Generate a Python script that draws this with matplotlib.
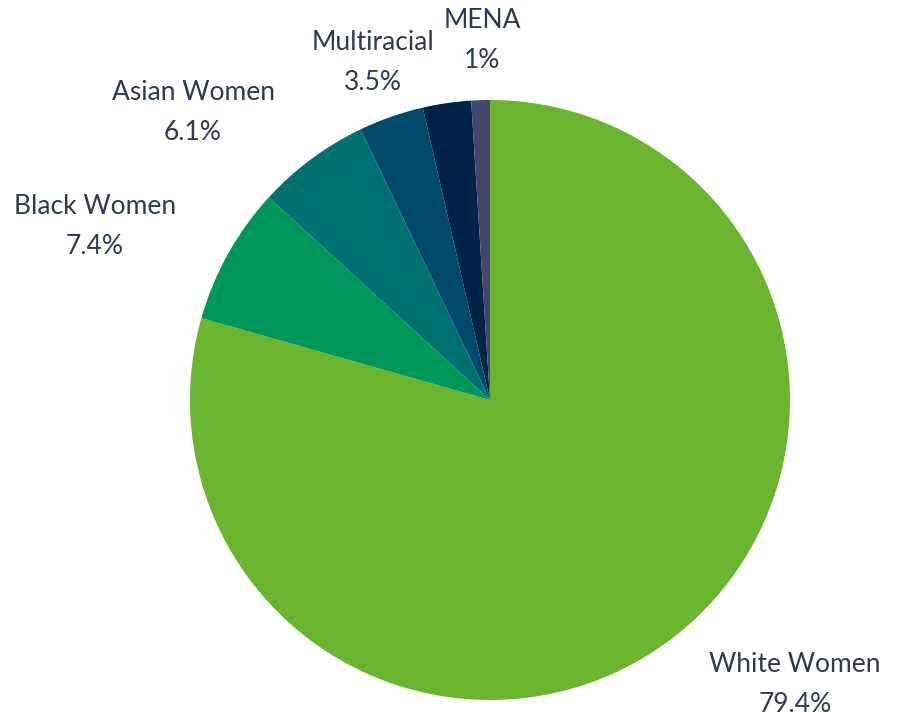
import matplotlib
matplotlib.use("Agg")
import matplotlib.pyplot as plt

categories = ["White Women", "Black Women", "Asian Women", "Multiracial", "", "MENA"]
values = [79.4, 7.4, 6.1, 3.5, 2.6, 1.0]
value_labels = ["79.4%", "7.4%", "6.1%", "3.5%", "", "1%"]
colors = ["#6BB42D", "#00975A", "#007171", "#004B6B", "#002448", "#44466E"]

# label anchor positions in pixel space (x, y from bottom)
label_pos = [(795, 32), (95, 490), (193, 604), (373, 655), None, (482, 676)]

W, H = 897, 717
fig = plt.figure(figsize=(W / 100, H / 100), dpi=100)
ax = fig.add_axes([0, 0, 1, 1])
ax.pie(values, colors=colors, startangle=90, counterclock=False,
       center=(490, 317), radius=300, frame=True,
       wedgeprops=dict(linewidth=0))
ax.set_xlim(0, W)
ax.set_ylim(0, H)
ax.axis("off")

txt_color = "#2C3A56"
for cat, lab, pos in zip(categories, value_labels, label_pos):
    if pos is None or not cat:
        continue
    ax.text(pos[0], pos[1], f"{cat}\n{lab}", ha="center", va="center",
            fontsize=19, color=txt_color, family=["Lato", "DejaVu Sans"],
            linespacing=1.75)

fig.savefig("out.png", dpi=100, facecolor="white")
